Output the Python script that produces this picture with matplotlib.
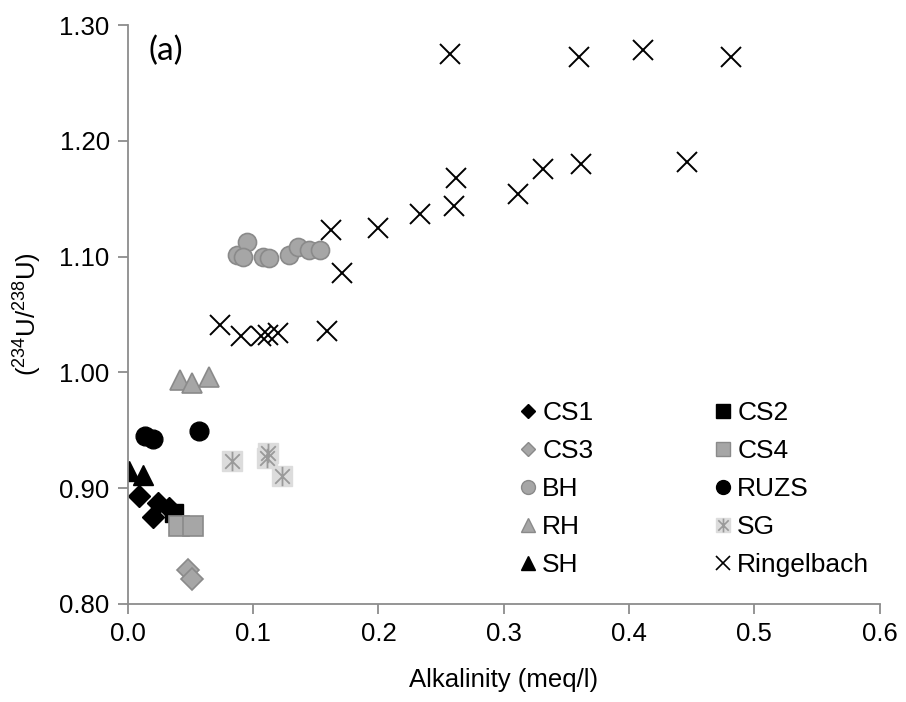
import matplotlib
matplotlib.use("Agg")
import matplotlib.pyplot as plt
from matplotlib.lines import Line2D
from matplotlib.path import Path
from matplotlib.legend_handler import HandlerTuple

plt.rcParams['font.family'] = ['Liberation Sans', 'DejaVu Sans']
plt.rcParams['mathtext.default'] = 'regular'

# ---- data ----
cs1_x = [0.009, 0.024, 0.020, 0.033]
cs1_y = [0.893, 0.887, 0.875, 0.883]
cs2_x = [0.037]
cs2_y = [0.878]
cs3_x = [0.048, 0.051]
cs3_y = [0.829, 0.821]
cs4_x = [0.041, 0.052]
cs4_y = [0.867, 0.867]
bh_x = [0.087, 0.095, 0.092, 0.108, 0.113, 0.129, 0.136, 0.145, 0.153]
bh_y = [1.101, 1.113, 1.100, 1.100, 1.099, 1.101, 1.108, 1.106, 1.106]
ruzs_x = [0.014, 0.020, 0.057]
ruzs_y = [0.945, 0.942, 0.949]
rh_x = [0.042, 0.051, 0.065]
rh_y = [0.993, 0.991, 0.996]
sg_x = [0.083, 0.112, 0.111, 0.123]
sg_y = [0.923, 0.930, 0.926, 0.910]
sh_x = [0.001, 0.012]
sh_y = [0.915, 0.911]
ring_x = [0.257, 0.360, 0.411, 0.481, 0.446, 0.362, 0.331, 0.311, 0.262, 0.260,
          0.233, 0.200, 0.162, 0.171, 0.074, 0.090, 0.106, 0.112, 0.120, 0.159]
ring_y = [1.275, 1.273, 1.279, 1.273, 1.182, 1.180, 1.176, 1.154, 1.168, 1.144,
          1.137, 1.125, 1.123, 1.086, 1.041, 1.031, 1.031, 1.032, 1.034, 1.036]

x_ticks = [0.0, 0.1, 0.2, 0.3, 0.4, 0.5, 0.6]
y_ticks = [0.80, 0.90, 1.00, 1.10, 1.20, 1.30]

GRAY = '#a6a6a6'
GRAY_E = '#8a8a8a'
LIGHT = '#dcdcdc'
AXC = '#8c8c8c'

# asterisk marker: vertical + X
ast = Path([(0, -1), (0, 1), (-0.75, -0.75), (0.75, 0.75), (-0.75, 0.75), (0.75, -0.75)],
           [Path.MOVETO, Path.LINETO, Path.MOVETO, Path.LINETO, Path.MOVETO, Path.LINETO])

fig = plt.figure(figsize=(9.06, 7.02), dpi=100)
ax = fig.add_axes([0.141, 0.140, 0.830, 0.824])

def pts(x, y, **kw):
    ax.plot(x, y, linestyle='none', **kw)

pts(bh_x, bh_y, marker='o', ms=13, mfc=GRAY, mec=GRAY_E, mew=1.2)
pts(ring_x, ring_y, marker='x', ms=14, mec='black', mew=1.4)
pts(rh_x, rh_y, marker='^', ms=15, mfc=GRAY, mec=GRAY_E, mew=1.2)
pts(ruzs_x, ruzs_y, marker='o', ms=13.5, mfc='black', mec='black')
pts(sg_x, sg_y, marker='s', ms=14, mfc=LIGHT, mec=LIGHT)
pts(sg_x, sg_y, marker=ast, ms=14, mec='#9a9a9a', mew=1.3)
pts(cs1_x, cs1_y, marker='D', ms=11, mfc='black', mec='black')
pts(cs2_x, cs2_y, marker='s', ms=13, mfc='black', mec='black')
pts(cs4_x, cs4_y, marker='s', ms=14, mfc=GRAY, mec=GRAY_E, mew=1.2)
pts(cs3_x, cs3_y, marker='D', ms=11, mfc=GRAY, mec=GRAY_E, mew=1.2)
pts(sh_x, sh_y, marker='^', ms=15, mfc='black', mec='black')

ax.set_xlim(0, 0.6)
ax.set_ylim(0.8, 1.3)
ax.set_xticks(x_ticks)
ax.set_xticklabels([f'{v:.1f}' for v in x_ticks])
ax.set_yticks(y_ticks)
ax.set_yticklabels([f'{v:.2f}' for v in y_ticks])
for s in ['top', 'right']:
    ax.spines[s].set_visible(False)
for s in ['left', 'bottom']:
    ax.spines[s].set_color(AXC)
    ax.spines[s].set_linewidth(1.3)
ax.tick_params(axis='both', colors=AXC, labelcolor='black', labelsize=18.5,
               length=7, width=1.3, direction='out')
ax.tick_params(axis='x', pad=6)
ax.tick_params(axis='y', pad=6)

ax.set_xlabel('Alkalinity (meq/l)', fontsize=18.5, labelpad=16)
ax.set_ylabel('($^{234}$U/$^{238}$U)', fontsize=18.5, labelpad=11)

ax.text(0.028, 0.955, '(a)', transform=ax.transAxes, fontsize=24,
        family=['Lato', 'DejaVu Sans'], va='center', ha='left')

def h(marker, mfc, mec, ms=9, mew=1.0):
    return Line2D([], [], linestyle='none', marker=marker, ms=ms, mfc=mfc, mec=mec, mew=mew)

sg_handle = (h('s', LIGHT, LIGHT, ms=10), h(ast, 'none', '#9a9a9a', ms=10, mew=1.2))
handles = [h('D', 'black', 'black', ms=7), h('D', GRAY, GRAY_E, ms=7),
           h('o', GRAY, GRAY_E, ms=10), h('^', GRAY, GRAY_E, ms=10),
           h('^', 'black', 'black', ms=10),
           h('s', 'black', 'black', ms=10), h('s', GRAY, GRAY_E, ms=10),
           h('o', 'black', 'black', ms=10), sg_handle,
           h('x', 'black', 'black', ms=10, mew=1.2)]
labels = ['CS1', 'CS3', 'BH', 'RH', 'SH', 'CS2', 'CS4', 'RUZS', 'SG', 'Ringelbach']
leg = ax.legend(handles, labels, ncol=2, frameon=False, fontsize=19,
                loc='upper left', bbox_to_anchor=(0.518, 0.35),
                handlelength=0.8, handletextpad=0.15, columnspacing=4.5,
                labelspacing=0.53, borderaxespad=0, borderpad=0,
                handler_map={tuple: HandlerTuple(ndivide=1, pad=0)})

fig.savefig('out.png', dpi=100)
